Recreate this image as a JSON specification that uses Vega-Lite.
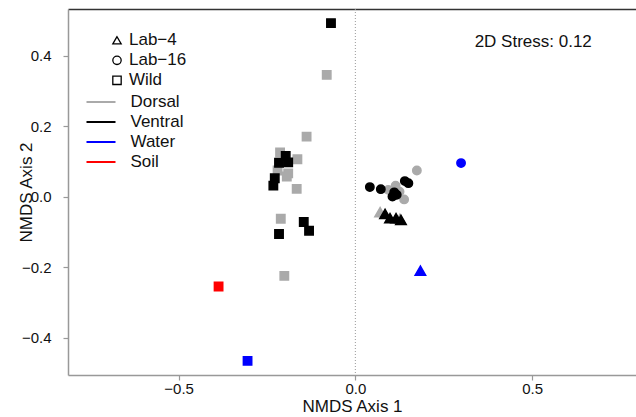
{
  "$schema": "https://vega.github.io/schema/vega-lite/v6.json",
  "width": 568,
  "height": 366,
  "autosize": "none",
  "padding": {"left": 68, "top": 9, "right": 0, "bottom": 42},
  "background": "white",
  "config": {
    "font": "Liberation Sans",
    "view": {"stroke": null},
    "axis": {
      "grid": false,
      "domainColor": "#999999",
      "domainWidth": 1.5,
      "tickColor": "#999999",
      "tickWidth": 1.2,
      "tickSize": 5,
      "labelColor": "#111111",
      "labelFontSize": 15,
      "titleFontSize": 17,
      "titleFontWeight": "normal",
      "titleColor": "#111111"
    },
    "legend": {
      "labelFontSize": 17,
      "labelColor": "#111111",
      "title": null
    }
  },
  "datasets": {
    "pts": [
      {"x": -0.138, "y": 0.171, "type": "Wild", "group": "Dorsal"},
      {"x": -0.213, "y": 0.126, "type": "Wild", "group": "Dorsal"},
      {"x": -0.164, "y": 0.107, "type": "Wild", "group": "Dorsal"},
      {"x": -0.220, "y": 0.075, "type": "Wild", "group": "Dorsal"},
      {"x": -0.190, "y": 0.067, "type": "Wild", "group": "Dorsal"},
      {"x": -0.194, "y": 0.058, "type": "Wild", "group": "Dorsal"},
      {"x": -0.166, "y": 0.023, "type": "Wild", "group": "Dorsal"},
      {"x": -0.211, "y": -0.062, "type": "Wild", "group": "Dorsal"},
      {"x": -0.201, "y": -0.224, "type": "Wild", "group": "Dorsal"},
      {"x": -0.081, "y": 0.346, "type": "Wild", "group": "Dorsal"},
      {"x": 0.174, "y": 0.075, "type": "Lab−16", "group": "Dorsal"},
      {"x": 0.093, "y": 0.020, "type": "Lab−16", "group": "Dorsal"},
      {"x": 0.114, "y": 0.032, "type": "Lab−16", "group": "Dorsal"},
      {"x": 0.138, "y": -0.007, "type": "Lab−16", "group": "Dorsal"},
      {"x": 0.125, "y": 0.015, "type": "Lab−16", "group": "Dorsal"},
      {"x": 0.070, "y": -0.043, "type": "Lab−4", "group": "Dorsal"},
      {"x": 0.126, "y": -0.062, "type": "Lab−4", "group": "Dorsal"},
      {"x": -0.197, "y": 0.116, "type": "Wild", "group": "Ventral"},
      {"x": -0.216, "y": 0.097, "type": "Wild", "group": "Ventral"},
      {"x": -0.190, "y": 0.098, "type": "Wild", "group": "Ventral"},
      {"x": -0.228, "y": 0.053, "type": "Wild", "group": "Ventral"},
      {"x": -0.232, "y": 0.032, "type": "Wild", "group": "Ventral"},
      {"x": -0.146, "y": -0.071, "type": "Wild", "group": "Ventral"},
      {"x": -0.216, "y": -0.105, "type": "Wild", "group": "Ventral"},
      {"x": -0.131, "y": -0.096, "type": "Wild", "group": "Ventral"},
      {"x": -0.069, "y": 0.493, "type": "Wild", "group": "Ventral"},
      {"x": 0.041, "y": 0.028, "type": "Lab−16", "group": "Ventral"},
      {"x": 0.072, "y": 0.022, "type": "Lab−16", "group": "Ventral"},
      {"x": 0.140, "y": 0.045, "type": "Lab−16", "group": "Ventral"},
      {"x": 0.150, "y": 0.039, "type": "Lab−16", "group": "Ventral"},
      {"x": 0.110, "y": 0.013, "type": "Lab−16", "group": "Ventral"},
      {"x": 0.117, "y": 0.006, "type": "Lab−16", "group": "Ventral"},
      {"x": 0.105, "y": 0.001, "type": "Lab−16", "group": "Ventral"},
      {"x": 0.084, "y": -0.048, "type": "Lab−4", "group": "Ventral"},
      {"x": 0.098, "y": -0.060, "type": "Lab−4", "group": "Ventral"},
      {"x": 0.115, "y": -0.060, "type": "Lab−4", "group": "Ventral"},
      {"x": 0.129, "y": -0.065, "type": "Lab−4", "group": "Ventral"},
      {"x": -0.305, "y": -0.465, "type": "Wild", "group": "Water"},
      {"x": 0.299, "y": 0.096, "type": "Lab−16", "group": "Water"},
      {"x": 0.184, "y": -0.209, "type": "Lab−4", "group": "Water"},
      {"x": -0.387, "y": -0.254, "type": "Wild", "group": "Soil"}
    ],
    "zero": [{"x": 0}],
    "note": [{"x": 0.669, "y": 0.44, "label": "2D Stress: 0.12"}]
  },
  "layer": [
    {
      "data": {"name": "zero"},
      "mark": {"type": "rule", "color": "#999999", "strokeDash": [1, 2], "strokeWidth": 1},
      "encoding": {
        "x": {"field": "x", "type": "quantitative", "axis": null}
      }
    },
    {
      "data": {"name": "pts"},
      "mark": {"type": "point", "filled": true, "opacity": 1, "strokeWidth": 1.5},
      "encoding": {
        "x": {
          "field": "x", "type": "quantitative",
          "scale": {"domain": [-0.813, 0.794], "nice": false, "zero": false},
          "axis": {"orient": "bottom", "values": [-0.5, 0, 0.5], "format": ".1f", "title": "NMDS Axis 1", "labelPadding": 1, "titlePadding": 2}
        },
        "y": {
          "field": "y", "type": "quantitative",
          "scale": {"domain": [-0.505, 0.533], "nice": false, "zero": false},
          "axis": {"values": [-0.4, -0.2, 0, 0.2, 0.4], "format": ".1f", "title": "NMDS Axis 2", "labelPadding": 12, "titleX": -42, "titleBaseline": "middle"}
        },
        "shape": {
          "field": "type", "type": "nominal",
          "scale": {"domain": ["Lab−4", "Lab−16", "Wild"], "range": ["triangle-up", "circle", "square"]},
          "legend": {
            "orient": "none", "legendX": 40.5, "legendY": 22.8,
            "symbolSize": 70, "labelOffset": 3.5, "rowPadding": 2,
            "symbolFillColor": "white", "symbolStrokeColor": "black", "symbolStrokeWidth": 1.3
          }
        },
        "size": {
          "condition": {"test": "datum.type === 'Lab−4'", "value": 110},
          "value": 70
        },
        "fill": {
          "field": "group", "type": "nominal",
          "scale": {"domain": ["Dorsal", "Ventral", "Water", "Soil"], "range": ["#AAAAAA", "#000000", "#0000FF", "#FF0000"]},
          "legend": {
            "orient": "none", "legendX": 17.5, "legendY": 83.4,
            "symbolType": "stroke", "symbolSize": 841, "symbolStrokeWidth": 2, "labelOffset": 14, "rowPadding": 0, "clipHeight": 19.3
          }
        },
        "stroke": {
          "field": "group", "type": "nominal",
          "scale": {"domain": ["Dorsal", "Ventral", "Water", "Soil"], "range": ["#AAAAAA", "#000000", "#0000FF", "#FF0000"]},
          "legend": {
            "orient": "none", "legendX": 17.5, "legendY": 83.4,
            "symbolType": "stroke", "symbolSize": 841, "symbolStrokeWidth": 2, "labelOffset": 14, "rowPadding": 0, "clipHeight": 19.3
          }
        }
      }
    },
    {
      "data": {"name": "note"},
      "mark": {"type": "text", "align": "right", "baseline": "middle", "fontSize": 17, "color": "#111111"},
      "encoding": {
        "x": {"field": "x", "type": "quantitative", "axis": {"orient": "top", "labels": false, "ticks": false, "title": null, "domainColor": "#333333", "domainWidth": 1.5}},
        "y": {"field": "y", "type": "quantitative"},
        "text": {"field": "label"}
      }
    }
  ]
}
